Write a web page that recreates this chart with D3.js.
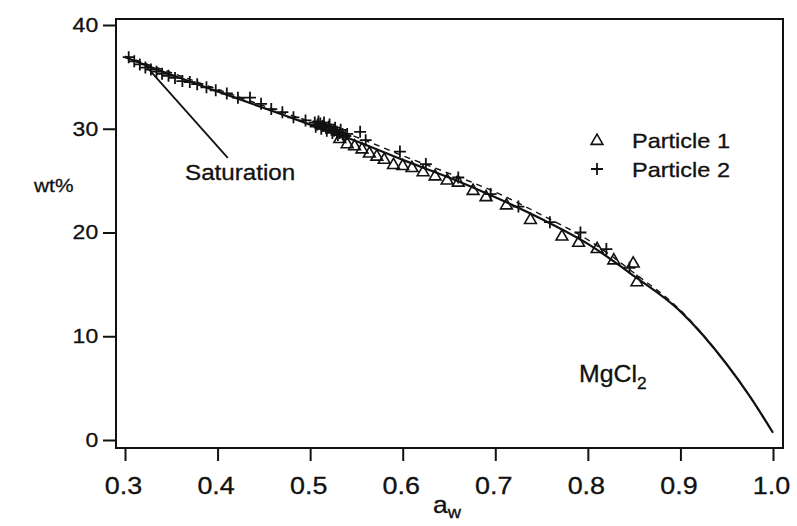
<!DOCTYPE html>
<html>
<head>
<meta charset="utf-8">
<script src="https://cdn.jsdelivr.net/npm/d3@7"></script>
<style>
  html, body { margin: 0; padding: 0; background: #fff; }
  svg { display: block; }
  text { font-family: "Liberation Sans", Arial, Helvetica, sans-serif; fill: #111; stroke: #111; stroke-width: 0.3px; }
</style>
</head>
<body>
<svg id="chart" width="797" height="526"></svg>
<script>
// Water activity vs. weight percent for aqueous MgCl2 particles

// Fitted curve (solid) and model curve (dashed)
const fitAw   = [0.30, 0.35, 0.40, 0.45, 0.50, 0.55, 0.60, 0.65, 0.70, 0.75, 0.80, 0.85, 0.90, 0.95, 0.975, 1.00];
const fitWt   = [36.9, 35.2, 33.6, 32.0, 30.4, 28.8, 27.0, 25.3, 23.4, 21.3, 18.9, 15.8, 12.4, 7.3, 4.2, 0.7];
const modelWt = [37.0, 35.4, 33.8, 32.2, 30.7, 29.2, 27.4, 25.7, 23.9, 21.7, 19.3, 16.1, 12.5, 7.3, 4.2, 0.7];

// Particle 1 (triangles)
const p1Aw = [0.532, 0.540, 0.548, 0.556, 0.564, 0.572, 0.580, 0.590, 0.600, 0.610, 0.622, 0.635, 0.648, 0.660, 0.676, 0.690, 0.712, 0.738, 0.772, 0.790, 0.810, 0.828, 0.849, 0.853];
const p1Wt = [29.0, 28.5, 28.3, 28.0, 27.6, 27.3, 27.0, 26.5, 26.4, 26.2, 25.8, 25.4, 25.0, 24.8, 24.0, 23.4, 22.6, 21.2, 19.6, 19.0, 18.4, 17.3, 17.0, 15.2];

// Particle 2 (plus signs), including the dense cluster near a_w = 0.5
const p2Aw = [0.304, 0.310, 0.316, 0.322, 0.328, 0.334, 0.340, 0.347, 0.354, 0.362, 0.370, 0.378, 0.388, 0.398, 0.410, 0.422, 0.435, 0.447, 0.458, 0.470, 0.482, 0.495,
              0.505, 0.508, 0.511, 0.514, 0.517, 0.520, 0.523, 0.526, 0.529, 0.532, 0.535, 0.538,
              0.506, 0.509, 0.512, 0.515, 0.518, 0.521, 0.524, 0.527, 0.530, 0.533, 0.536, 0.540,
              0.554, 0.560, 0.597, 0.625, 0.660, 0.695, 0.725, 0.759, 0.792, 0.820, 0.845];
const p2Wt = [36.9, 36.5, 36.2, 35.9, 35.7, 35.5, 35.3, 35.1, 34.9, 34.6, 34.5, 34.3, 34.0, 33.7, 33.4, 33.0, 33.0, 32.4, 31.9, 31.6, 31.1, 30.8,
              30.6, 30.4, 30.5, 30.3, 30.1, 30.2, 29.9, 29.8, 29.7, 29.6, 29.5, 29.3,
              30.2, 30.7, 30.0, 30.6, 29.8, 30.4, 29.6, 30.1, 29.4, 29.9, 29.2, 29.5,
              29.7, 28.9, 27.8, 26.6, 25.3, 23.7, 22.5, 21.0, 20.0, 18.4, 16.6];

// Saturation marker line
const satAw = [0.322, 0.411];
const satWt = [36.1, 27.2];

// Tick labels
const xTicks = [0.3, 0.4, 0.5, 0.6, 0.7, 0.8, 0.9, 1.0];
const yTicks = [0, 10, 20, 30, 40];

const svg = d3.select("#chart");

const x = d3.scaleLinear().domain([0.3, 1.0]).range([125, 773]);
const y = d3.scaleLinear().domain([0, 40]).range([440, 25]);

// Plot frame
const frame = { left: 116, right: 783, top: 19, bottom: 448 };
svg.append("rect")
  .attr("x", frame.left).attr("y", frame.top)
  .attr("width", frame.right - frame.left)
  .attr("height", frame.bottom - frame.top)
  .attr("fill", "none").attr("stroke", "#111").attr("stroke-width", 2);

// X axis
const gx = svg.append("g")
  .attr("transform", `translate(0,${frame.bottom})`)
  .call(d3.axisBottom(x).tickValues(xTicks).tickFormat(d3.format(".1f")).tickSize(13).tickPadding(17));
gx.select(".domain").remove();
gx.selectAll(".tick line").attr("stroke", "#111").attr("stroke-width", 2);
gx.selectAll(".tick text")
  .attr("fill", "#111")
  .style("font-size", "23px")
  .attr("transform", "translate(-2,0) scale(1.17,1)");

// Y axis
const gy = svg.append("g")
  .attr("transform", `translate(${frame.left},0)`)
  .call(d3.axisLeft(y).tickValues(yTicks).tickSize(13).tickPadding(5));
gy.select(".domain").remove();
gy.selectAll(".tick line").attr("stroke", "#111").attr("stroke-width", 2);
gy.selectAll(".tick text")
  .attr("fill", "#111")
  .style("font-size", "20px")
  .attr("x", -15.5)
  .attr("transform", "scale(1.15,1)");

// Axis titles
svg.append("text")
  .attr("transform", "translate(34,192) scale(1.1,1)")
  .style("font-size", "19px")
  .text("wt%");

const xt = svg.append("text")
  .attr("transform", "translate(433,513) scale(1.15,1)")
  .style("font-size", "23px");
xt.append("tspan").text("a");
xt.append("tspan").attr("dy", 5).style("font-size", "16px").text("w");

// Curves
const fitData = fitAw.map((a, i) => ({ aw: a, wt: fitWt[i] }));
const modelData = fitAw.map((a, i) => ({ aw: a, wt: modelWt[i] }));
const line = d3.line().x(d => x(d.aw)).y(d => y(d.wt)).curve(d3.curveMonotoneX);

svg.append("path").datum(modelData)
  .attr("d", line).attr("fill", "none")
  .attr("stroke", "#111").attr("stroke-width", 1.4)
  .attr("stroke-dasharray", "6,5");

svg.append("path").datum(fitData)
  .attr("d", line).attr("fill", "none")
  .attr("stroke", "#111").attr("stroke-width", 2.2);

// Saturation line
svg.append("line")
  .attr("x1", x(satAw[0])).attr("y1", y(satWt[0]))
  .attr("x2", x(satAw[1])).attr("y2", y(satWt[1]))
  .attr("stroke", "#111").attr("stroke-width", 1.8);

svg.append("text")
  .attr("transform", "translate(185,180) scale(1.1,1)")
  .style("font-size", "22px")
  .text("Saturation");

// Markers
const tri = d3.symbol().type(d3.symbolTriangle).size(60);
const plusPath = "M-6,0H6M0,-6V6";

svg.append("g").selectAll("path")
  .data(p1Aw.map((a, i) => ({ aw: a, wt: p1Wt[i] })))
  .join("path")
  .attr("d", tri)
  .attr("transform", d => `translate(${x(d.aw)},${y(d.wt)})`)
  .attr("fill", "none").attr("stroke", "#111").attr("stroke-width", 1.6);

svg.append("g").selectAll("path")
  .data(p2Aw.map((a, i) => ({ aw: a, wt: p2Wt[i] })))
  .join("path")
  .attr("d", plusPath)
  .attr("transform", d => `translate(${x(d.aw)},${y(d.wt)})`)
  .attr("fill", "none").attr("stroke", "#111").attr("stroke-width", 1.8);

// Legend
const legend = svg.append("g");
legend.append("path").attr("d", tri)
  .attr("transform", "translate(597,141)")
  .attr("fill", "none").attr("stroke", "#111").attr("stroke-width", 1.6);
legend.append("path").attr("d", plusPath)
  .attr("transform", "translate(597,169)")
  .attr("fill", "none").attr("stroke", "#111").attr("stroke-width", 1.8);
legend.append("text")
  .attr("transform", "translate(632,148) scale(1.12,1)")
  .style("font-size", "21px").text("Particle 1");
legend.append("text")
  .attr("transform", "translate(632,177) scale(1.12,1)")
  .style("font-size", "21px").text("Particle 2");

// Substance label
const mg = svg.append("text")
  .attr("transform", "translate(579,382) scale(1.08,1)")
  .style("font-size", "23px");
mg.append("tspan").text("MgCl");
mg.append("tspan").attr("dy", 7).style("font-size", "16px").text("2");
</script>
</body>
</html>
